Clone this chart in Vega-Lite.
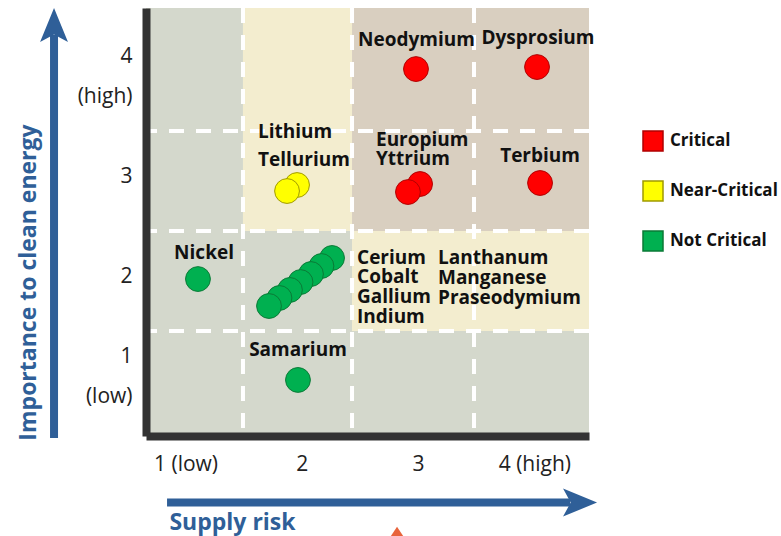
{
  "$schema": "https://vega.github.io/schema/vega-lite/v6.json",
  "width": 443,
  "height": 428,
  "autosize": {"type": "none"},
  "padding": {"left": 146, "top": 8, "right": 192, "bottom": 100},
  "background": "white",
  "config": {"view": {"stroke": null}, "font": "Open Sans"},
  "datasets": {
    "zones": [
      {"risk": 0.66, "risk2": 4.47, "importance": 0.41, "importance2": 1.457, "zone": "low"},
      {"risk": 0.66, "risk2": 2.432, "importance": 1.457, "importance2": 2.455, "zone": "low"},
      {"risk": 2.432, "risk2": 4.47, "importance": 1.457, "importance2": 2.455, "zone": "mid"},
      {"risk": 0.66, "risk2": 1.494, "importance": 2.455, "importance2": 4.68, "zone": "low"},
      {"risk": 1.494, "risk2": 2.432, "importance": 2.455, "importance2": 4.68, "zone": "mid"},
      {"risk": 2.432, "risk2": 4.47, "importance": 2.455, "importance2": 4.68, "zone": "high"}
    ],
    "vlines": [{"risk": 1.494}, {"risk": 2.432}, {"risk": 3.481}],
    "hlines": [{"importance": 1.457}, {"importance": 2.455}, {"importance": 3.453}],
    "points": [
      {"name": "Neodymium", "risk": 2.982, "importance": 4.071, "status": "Critical"},
      {"name": "Dysprosium", "risk": 4.023, "importance": 4.091, "status": "Critical"},
      {"name": "Europium", "risk": 3.017, "importance": 2.924, "status": "Critical"},
      {"name": "Yttrium", "risk": 2.913, "importance": 2.844, "status": "Critical"},
      {"name": "Terbium", "risk": 4.049, "importance": 2.934, "status": "Critical"},
      {"name": "Lithium", "risk": 1.959, "importance": 2.914, "status": "Near-Critical"},
      {"name": "Tellurium", "risk": 1.873, "importance": 2.854, "status": "Near-Critical"},
      {"name": "Nickel", "risk": 1.107, "importance": 1.976, "status": "Not Critical"},
      {"name": "Praseodymium", "risk": 2.26, "importance": 2.186, "status": "Not Critical"},
      {"name": "Manganese", "risk": 2.169, "importance": 2.106, "status": "Not Critical"},
      {"name": "Lanthanum", "risk": 2.079, "importance": 2.026, "status": "Not Critical"},
      {"name": "Indium", "risk": 1.989, "importance": 1.946, "status": "Not Critical"},
      {"name": "Gallium", "risk": 1.898, "importance": 1.867, "status": "Not Critical"},
      {"name": "Cobalt", "risk": 1.808, "importance": 1.787, "status": "Not Critical"},
      {"name": "Cerium", "risk": 1.718, "importance": 1.707, "status": "Not Critical"},
      {"name": "Samarium", "risk": 1.967, "importance": 0.969, "status": "Not Critical"}
    ],
    "labels_center": [
      {"text": "Neodymium", "risk": 2.986, "importance": 4.361},
      {"text": "Dysprosium", "risk": 4.031, "importance": 4.381},
      {"text": "Terbium", "risk": 4.049, "importance": 3.203},
      {"text": "Nickel", "risk": 1.159, "importance": 2.236},
      {"text": "Samarium", "risk": 1.967, "importance": 1.268}
    ],
    "labels_left": [
      {"text": "Europium", "risk": 2.638, "importance": 3.363},
      {"text": "Yttrium", "risk": 2.638, "importance": 3.173},
      {"text": "Lithium", "risk": 1.623, "importance": 3.443},
      {"text": "Tellurium", "risk": 1.623, "importance": 3.163},
      {"text": "Cerium", "risk": 2.475, "importance": 2.186},
      {"text": "Cobalt", "risk": 2.475, "importance": 1.996},
      {"text": "Gallium", "risk": 2.475, "importance": 1.797},
      {"text": "Indium", "risk": 2.475, "importance": 1.597},
      {"text": "Lanthanum", "risk": 3.171, "importance": 2.186},
      {"text": "Manganese", "risk": 3.171, "importance": 1.986},
      {"text": "Praseodymium", "risk": 3.171, "importance": 1.787}
    ],
    "shafts": [
      {"risk": -0.131, "risk2": -0.131, "importance": 0.39, "importance2": 4.411},
      {"risk": 0.841, "risk2": 4.307, "importance": -0.254, "importance2": -0.254}
    ],
    "head_up": [{"risk": -0.131, "importance": 4.51}],
    "head_right": [{"risk": 4.393, "importance": -0.254}],
    "marker": [{"risk": 2.819, "importance": -0.608}]
  },
  "layer": [
    {
      "data": {"name": "zones"},
      "mark": {"type": "rect"},
      "encoding": {
        "x": {
          "field": "risk", "type": "quantitative",
          "scale": {"domain": [0.66, 4.47], "nice": false, "zero": false},
          "axis": {
            "values": [1, 2, 3, 4],
            "format": "d",
            "labelExpr": "datum.value == 1 ? '1 (low)' : datum.value == 4 ? '4 (high)' : datum.label",
            "grid": false, "ticks": false, "tickSize": 0,
            "domainWidth": 8, "domainColor": "#333333",
            "labelFontSize": 21, "labelFont": "Open Sans", "labelColor": "#222222",
            "labelPadding": 28, "labelBaseline": "middle", "labelFlush": false, "labelOverlap": false,
            "title": "Supply risk", "titleFontSize": 23, "titleFontWeight": "bold", "titleColor": "#2f5f98",
            "titleFont": "Open Sans", "titleX": 86, "titleY": 86, "titleAlign": "center", "titleBaseline": "middle",
            "zindex": 1
          }
        },
        "x2": {"field": "risk2"},
        "y": {
          "field": "importance", "type": "quantitative",
          "scale": {"domain": [0.41, 4.68], "nice": false, "zero": false},
          "axis": {
            "values": [1, 2, 3, 4],
            "format": "d",
            "labelExpr": "datum.value == 4 ? ['4', '(high)'] : datum.value == 1 ? ['1', '(low)'] : datum.label",
            "labelLineHeight": 40,
            "labelOffset": {"condition": {"test": "datum.value == 4 || datum.value == 1", "value": -20}, "value": 0},
            "grid": false, "ticks": false, "tickSize": 0,
            "domainWidth": 8, "domainColor": "#333333",
            "labelFontSize": 21, "labelFont": "Open Sans", "labelColor": "#222222",
            "labelPadding": 14, "labelBaseline": "middle", "labelFlush": false, "labelOverlap": false,
            "title": "Importance to clean energy", "titleFontSize": 23, "titleFontWeight": "bold", "titleColor": "#2f5f98",
            "titleFont": "Open Sans", "titleX": -118, "titleY": 274, "titleAlign": "center", "titleBaseline": "middle", "titleAngle": -90,
            "zindex": 1
          }
        },
        "y2": {"field": "importance2"},
        "fill": {
          "field": "zone", "type": "nominal",
          "scale": {"domain": ["low", "mid", "high"], "range": ["#d4d8cc", "#f3edcf", "#d9cfc0"]},
          "legend": null
        }
      }
    },
    {
      "data": {"name": "vlines"},
      "mark": {"type": "rule", "color": "white", "strokeWidth": 4, "strokeDash": [15, 12]},
      "encoding": {
        "x": {"field": "risk", "type": "quantitative"}
      }
    },
    {
      "data": {"name": "hlines"},
      "mark": {"type": "rule", "color": "white", "strokeWidth": 4, "strokeDash": [15, 12]},
      "encoding": {
        "y": {"field": "importance", "type": "quantitative"}
      }
    },
    {
      "data": {"name": "points"},
      "mark": {"type": "point", "filled": true, "size": 615, "shape": "circle", "strokeWidth": 1, "opacity": 1},
      "encoding": {
        "x": {"field": "risk", "type": "quantitative"},
        "y": {"field": "importance", "type": "quantitative"},
        "color": {
          "field": "status", "type": "nominal",
          "scale": {"domain": ["Critical", "Near-Critical", "Not Critical"], "range": ["#ff0000", "#ffff00", "#00b050"]},
          "legend": {
            "title": null, "orient": "none", "legendX": 496, "legendY": 122,
            "symbolType": "square", "symbolSize": 400, "symbolStrokeColor": "black", "symbolStrokeWidth": 1.5,
            "symbolOpacity": 1,
            "labelFontSize": 17, "labelFontWeight": "bold", "labelFont": "Open Sans", "labelColor": "#111111",
            "rowPadding": 24, "labelOffset": 6, "padding": 0
          }
        },
        "stroke": {
          "field": "status", "type": "nominal",
          "scale": {"domain": ["Critical", "Near-Critical", "Not Critical"], "range": ["#b00000", "#a09a00", "#0a7a36"]},
          "legend": null
        }
      }
    },
    {
      "data": {"name": "labels_center"},
      "mark": {"type": "text", "align": "center", "baseline": "middle", "fontSize": 19, "fontWeight": "bold", "font": "Open Sans", "color": "#111111"},
      "encoding": {
        "x": {"field": "risk", "type": "quantitative"},
        "y": {"field": "importance", "type": "quantitative"},
        "text": {"field": "text"}
      }
    },
    {
      "data": {"name": "labels_left"},
      "mark": {"type": "text", "align": "left", "baseline": "middle", "fontSize": 19, "fontWeight": "bold", "font": "Open Sans", "color": "#111111"},
      "encoding": {
        "x": {"field": "risk", "type": "quantitative"},
        "y": {"field": "importance", "type": "quantitative"},
        "text": {"field": "text"}
      }
    },
    {
      "data": {"name": "shafts"},
      "mark": {"type": "rule", "color": "#2f5f98", "strokeWidth": 8, "strokeCap": "butt", "clip": false},
      "encoding": {
        "x": {"field": "risk", "type": "quantitative"},
        "x2": {"field": "risk2"},
        "y": {"field": "importance", "type": "quantitative"},
        "y2": {"field": "importance2"}
      }
    },
    {
      "data": {"name": "head_up"},
      "mark": {"type": "point", "filled": true, "opacity": 1, "color": "#2f5f98", "size": 1156, "shape": "M0,-1L0.82,1L0,0.55L-0.82,1Z", "clip": false},
      "encoding": {
        "x": {"field": "risk", "type": "quantitative"},
        "y": {"field": "importance", "type": "quantitative"}
      }
    },
    {
      "data": {"name": "head_right"},
      "mark": {"type": "point", "filled": true, "opacity": 1, "color": "#2f5f98", "size": 1156, "shape": "M1,0L-1,-0.82L-0.55,0L-1,0.82Z", "clip": false},
      "encoding": {
        "x": {"field": "risk", "type": "quantitative"},
        "y": {"field": "importance", "type": "quantitative"}
      }
    },
    {
      "data": {"name": "marker"},
      "mark": {"type": "point", "filled": true, "opacity": 1, "color": "#e8643c", "size": 900, "shape": "M0,-0.75L1,0.75L-1,0.75Z", "clip": false},
      "encoding": {
        "x": {"field": "risk", "type": "quantitative"},
        "y": {"field": "importance", "type": "quantitative"}
      }
    }
  ]
}
